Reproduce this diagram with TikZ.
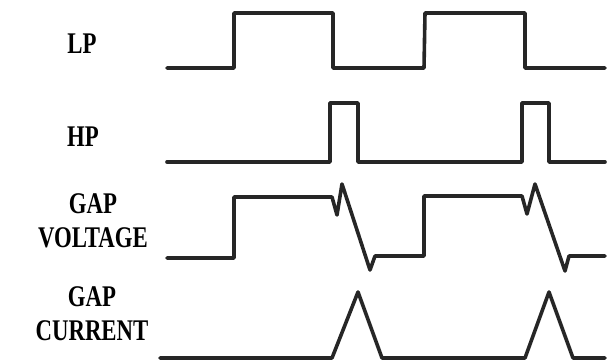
\documentclass[tikz,border=0pt]{standalone}
\usepackage{fontspec}
\setmainfont{Liberation Serif}
\usepackage{graphicx}
\tikzset{
  wave/.style={line width=3.6pt, line join=round, line cap=round, black!85},
  lab/.style={font=\fontsize{30}{34}\selectfont\bfseries, inner sep=0pt, align=center}
}
\newcommand{\nar}[1]{\scalebox{0.76}[1]{#1}}
\begin{document}
\begin{tikzpicture}[x=1pt,y=-1pt]
\useasboundingbox (0,0) rectangle (608,364);
% labels
\node[lab] (lp) at (82,44) {\nar{LP}};
\node[lab] (hp) at (83,137) {\nar{HP}};
\node[lab] (gv1) at (93,204) {\nar{GAP}};
\node[lab] (gv2) at (93,238) {\nar{VOLTAGE}};
\node[lab] (gc1) at (92,297) {\nar{GAP}};
\node[lab] (gc2) at (92,331) {\nar{CURRENT}};
% LP
\draw[wave] (167,68) -- (234,68) -- (234,13) -- (333,13) -- (333,68) -- (424,68) -- (425,13) -- (525,13) -- (525,68) -- (605,68);
% HP
\draw[wave] (167,162) -- (330,162) -- (330,103) -- (358,103) -- (358,162) -- (522,162) -- (522,103) -- (549,103) -- (549,162) -- (605,162);
% GAP VOLTAGE
\draw[wave] (167,258) -- (234,258) -- (234,197) -- (332,197) -- (337,215) -- (342,184) -- (370,270) -- (375,256) -- (424,256) -- (424,196) -- (522,196) -- (527,214) -- (535,184) -- (565,271) -- (569,256) -- (605,256);
% GAP CURRENT
\draw[wave] (160,358) -- (332,358) -- (358,292) -- (382,358) -- (525,358) -- (549,292) -- (573,358) -- (605,358);
\end{tikzpicture}
\end{document}
